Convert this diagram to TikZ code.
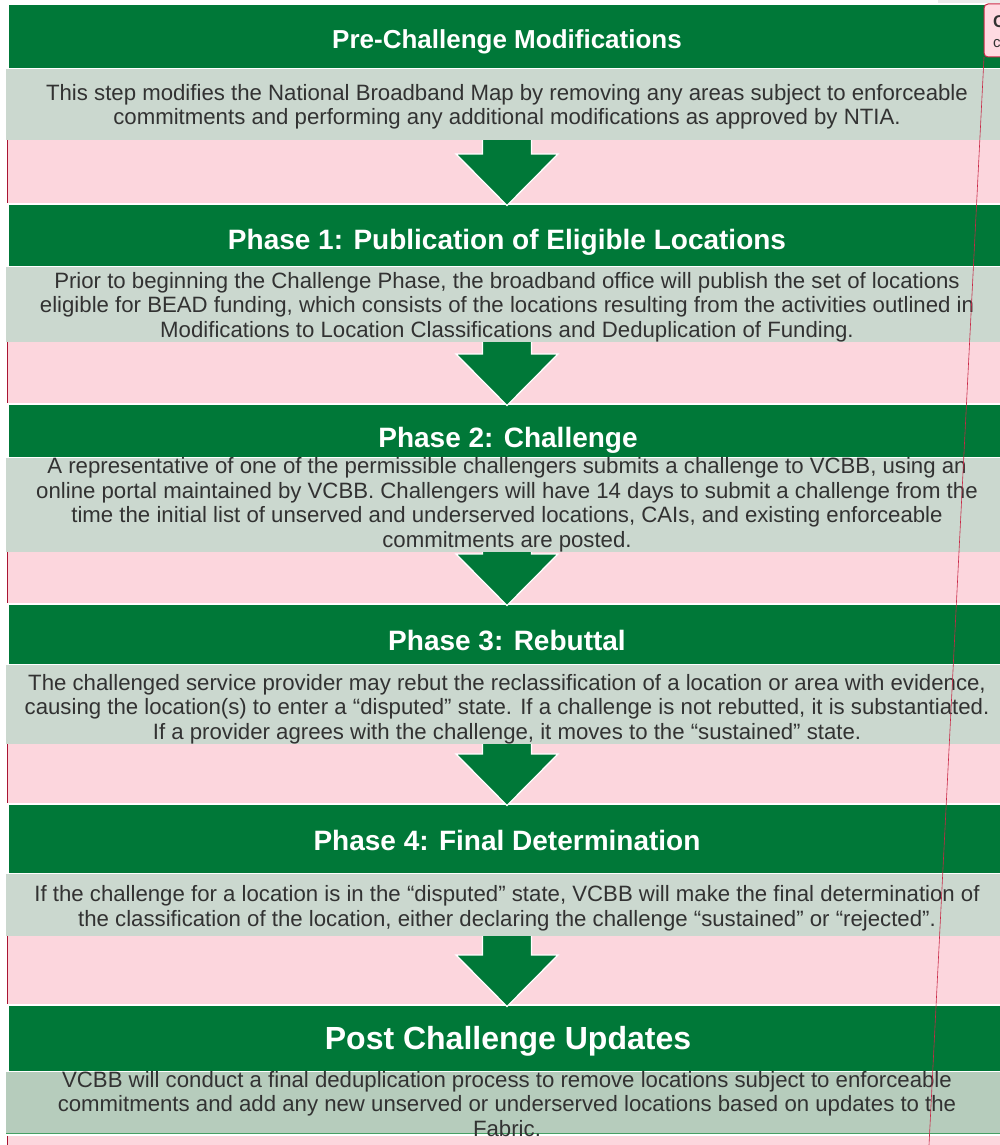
\documentclass[tikz,border=0pt]{standalone}
\usepackage{fontspec}
\setmainfont{Liberation Sans}
\usetikzlibrary{calc}
\definecolor{hdrgreen}{RGB}{0,120,56}
\definecolor{pinkbg}{RGB}{252,214,221}
\definecolor{graybox}{RGB}{203,216,207}
\definecolor{graylast}{RGB}{182,204,188}
\definecolor{txtgray}{RGB}{50,50,50}
\definecolor{edgered}{RGB}{170,20,50}
\definecolor{cmtred}{RGB}{200,40,70}
\definecolor{cmtpink}{RGB}{255,218,226}
\definecolor{topgray}{RGB}{235,235,235}
\definecolor{lastline}{RGB}{70,160,100}
\tikzset{
  hdrbox/.style={fill=hdrgreen, draw=white, line width=1.2pt, inner sep=0pt, outer sep=0pt, anchor=north west, minimum width=994pt},
  bodybox/.style={fill=graybox, draw=none, inner sep=0pt, outer sep=0pt, anchor=north west, minimum width=996pt},
  hdrtext/.style={text=white, font=\fontsize{28}{32}\selectfont\bfseries, inner sep=0pt, anchor=base},
  bodytext/.style={text=txtgray, font=\fontsize{22.2}{24.5}\selectfont, align=center, inner sep=0pt},
  blockarrow/.style={fill=hdrgreen, draw=white, line width=1.3pt, line join=miter},
  cmtbox/.style={fill=cmtpink, draw=cmtred, line width=1pt, rounded corners=4pt, inner sep=0pt, outer sep=0pt, anchor=north west, minimum width=40pt, minimum height=53pt},
}
\newcommand\blockarr[2]{%
  \path[blockarrow] ($(#1.south -| mid)+(-24.5,0)$) -- ($(#2.north -| mid)+(-24.5,-50)$) -- ($(#2.north -| mid)+(-51,-50)$) -- ($(#2.north -| mid)+(0,1.5)$) -- ($(#2.north -| mid)+(51,-50)$) -- ($(#2.north -| mid)+(24.5,-50)$) -- ($(#1.south -| mid)+(24.5,0)$);}
\begin{document}
\begin{tikzpicture}[x=1pt,y=-1pt]
\useasboundingbox (0,0) rectangle (1000,1145);
\fill[white] (0,0) rectangle (1000,1145);
\fill[topgray] (938,0) rectangle (1000,3);
\fill[pinkbg] (7,140) rectangle (1000,1145);
\draw[edgered, line width=1pt] (7,140) -- (7,1145);
\coordinate (mid) at (507,0);
% boxes
\node[hdrbox, minimum height=65pt] (h0) at (8,4) {};
\node[bodybox, minimum height=71pt] (g0) at (6,69) {};
\node[hdrbox, minimum height=63pt] (h1) at (8,204) {};
\node[bodybox, minimum height=75pt] (g1) at (6,267) {};
\node[hdrbox, minimum height=54pt] (h2) at (8,404) {};
\node[bodybox, minimum height=94pt] (g2) at (6,458) {};
\node[hdrbox, minimum height=61pt] (h3) at (8,604) {};
\node[bodybox, minimum height=79pt] (g3) at (6,665) {};
\node[hdrbox, minimum height=70pt] (h4) at (8,804) {};
\node[bodybox, minimum height=62pt] (g4) at (6,874) {};
\node[hdrbox, minimum height=67pt] (h5) at (8,1005) {};
\node[bodybox, fill=graylast, minimum height=61pt] (g5) at (6,1072) {};
\draw[lastline, line width=1pt] (g5.south west) -- (g5.south east);
\draw[white, line width=1.2pt] (7,1135) -- (1000,1135);
% arrows
\blockarr{g0}{h1}
\blockarr{g1}{h2}
\blockarr{g2}{h3}
\blockarr{g3}{h4}
\blockarr{g4}{h5}
% header texts
\node[hdrtext, font=\fontsize{26}{30}\selectfont\bfseries] (t0) at (507,48.3) {Pre-Challenge Modifications};
\node[hdrtext] (t1) at (507,249) {Phase 1: Publication of Eligible Locations};
\node[hdrtext] (t2) at (508,447.5) {Phase 2: Challenge};
\node[hdrtext] (t3) at (507,650) {Phase 3: Rebuttal};
\node[hdrtext] (t4) at (507,850.5) {Phase 4: Final Determination};
\node[hdrtext, font=\fontsize{32}{36}\selectfont\bfseries] (t5) at (508,1049) {Post Challenge Updates};
% body texts
\node[bodytext] (b0) at (507,107) {This step modifies the National Broadband Map by removing any areas subject to enforceable\\commitments and performing any additional modifications as approved by NTIA.};
\node[bodytext] (b1) at (507,307) {Prior to beginning the Challenge Phase, the broadband office will publish the set of locations\\eligible for BEAD funding, which consists of the locations resulting from the activities outlined in\\Modifications to Location Classifications and Deduplication of Funding.};
\node[bodytext] (b2) at (507,505) {A representative of one of the permissible challengers submits a challenge to VCBB, using an\\online portal maintained by VCBB. Challengers will have 14 days to submit a challenge from the\\time the initial list of unserved and underserved locations, CAIs, and existing enforceable\\commitments are posted.};
\node[bodytext] (b3) at (507,709) {The challenged service provider may rebut the reclassification of a location or area with evidence,\\causing the location(s) to enter a “disputed” state. If a challenge is not rebutted, it is substantiated.\\If a provider agrees with the challenge, it moves to the “sustained” state.};
\node[bodytext] (b4) at (507,908) {If the challenge for a location is in the “disputed” state, VCBB will make the final determination of\\the classification of the location, either declaring the challenge “sustained” or “rejected”.};
\node[bodytext] (b5) at (507,1104) {VCBB will conduct a final deduplication process to remove locations subject to enforceable\\commitments and add any new unserved or underserved locations based on updates to the\\Fabric.};
% comment
\node[cmtbox] (cm) at (984,4) {};
\node[anchor=base west, inner sep=0pt, text=txtgray, font=\fontsize{17}{17}\selectfont\bfseries] (cmt1) at (993,28) {C};
\node[anchor=base west, inner sep=0pt, text=txtgray, font=\fontsize{15}{15}\selectfont] (cmt2) at (993,48) {c};
\coordinate (cmend) at (929,1145);
\draw[cmtred, line width=0.6pt] (cm.south west) -- (cmend);
\end{tikzpicture}
\end{document}
